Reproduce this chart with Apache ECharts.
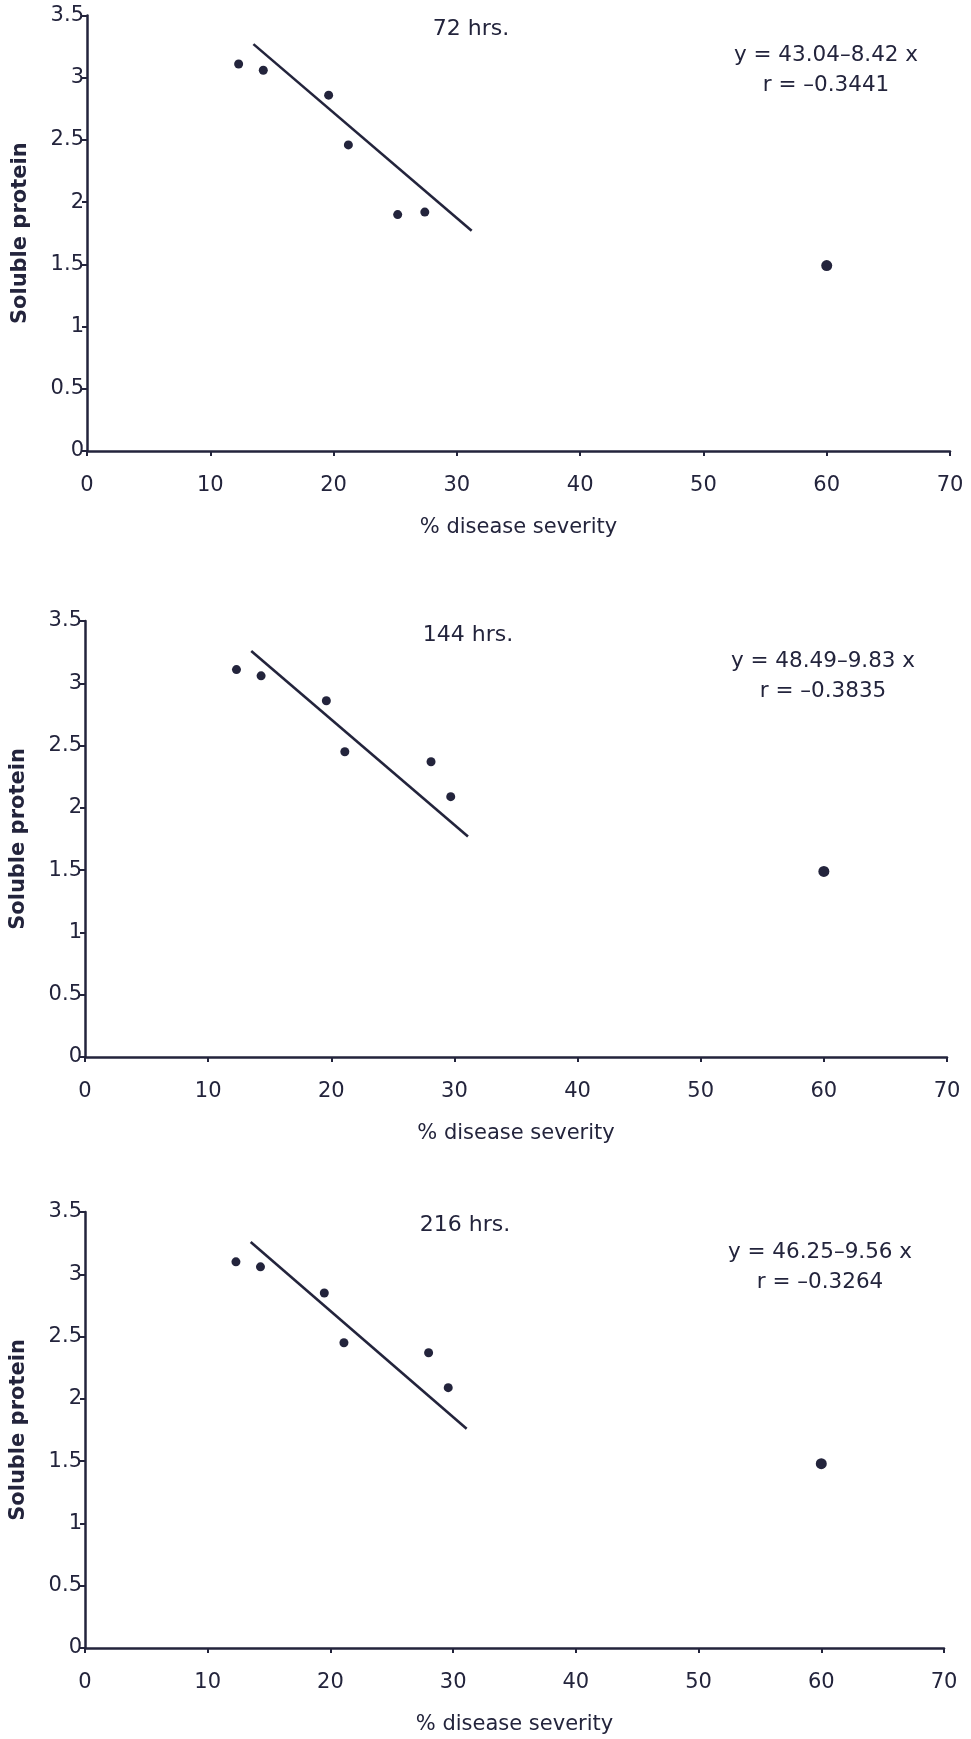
<!DOCTYPE html>
<html>
<head>
<meta charset="utf-8">
<script src="https://cdn.jsdelivr.net/npm/echarts@6/dist/echarts.min.js"></script>
<style>
  html, body { margin: 0; padding: 0; background: #fff; }
  #main { width: 971px; height: 1739px; }
</style>
</head>
<body>
<div id="main"></div>
<script>
// data (% disease severity vs soluble protein)
var hours = ['72 hrs.', '144 hrs.', '216 hrs.'];
var equations = ['y = 43.04\u20138.42 x', 'y = 48.49\u20139.83 x', 'y = 46.25\u20139.56 x'];
var rValues = ['r = \u20130.3441', 'r = \u20130.3835', 'r = \u20130.3264'];

var severity72 = [12.3, 14.3, 19.6, 21.2, 25.2, 27.4, 60];
var protein72 = [3.11, 3.06, 2.86, 2.46, 1.90, 1.92, 1.49];
var severity144 = [12.3, 14.3, 19.6, 21.1, 28.1, 29.7, 60];
var protein144 = [3.11, 3.06, 2.86, 2.45, 2.37, 2.09, 1.49];
var severity216 = [12.3, 14.3, 19.5, 21.1, 28.0, 29.6, 60];
var protein216 = [3.10, 3.06, 2.85, 2.45, 2.37, 2.09, 1.48];

// fitted line ends as drawn
var fitX72 = [13.5, 31.2], fitY72 = [3.27, 1.77];
var fitX144 = [13.5, 31.1], fitY144 = [3.26, 1.77];
var fitX216 = [13.5, 31.1], fitY216 = [3.26, 1.76];

var xTicks = [0, 10, 20, 30, 40, 50, 60, 70];
var yTicks = [0, 0.5, 1, 1.5, 2, 2.5, 3, 3.5];

var ink = '#23243c';
var font = "'DejaVu Sans', 'Liberation Sans', sans-serif";

var panels = [
  { xs: severity72, ys: protein72, fx: fitX72, fy: fitY72, grid: { left: 87, top: 15.5, width: 863, height: 435.5 }, title: [471, 29], eq: [826, 55] },
  { xs: severity144, ys: protein144, fx: fitX144, fy: fitY144, grid: { left: 84, top: 621, width: 863, height: 436 }, title: [468, 635], eq: [823, 661] },
  { xs: severity216, ys: protein216, fx: fitX216, fy: fitY216, grid: { left: 81, top: 1212, width: 863, height: 436 }, title: [465, 1225], eq: [820, 1252] }
];

function zip(a, b) {
  var out = [];
  for (var i = 0; i < a.length; i++) out.push([a[i], b[i]]);
  return out;
}

var grids = [], xAxes = [], yAxes = [], series = [], graphics = [];
panels.forEach(function (p, i) {
  grids.push(p.grid);
  xAxes.push({
    type: 'value', gridIndex: i,
    min: xTicks[0], max: xTicks[xTicks.length - 1], interval: 10,
    name: '% disease severity', nameLocation: 'middle', nameGap: 66,
    nameTextStyle: { color: ink, fontSize: 21, fontFamily: font },
    axisLine: { show: true, onZero: false, lineStyle: { color: ink, width: 2.5 } },
    axisTick: { show: true, length: 5, lineStyle: { color: ink, width: 2 } },
    axisLabel: { color: ink, fontSize: 21, fontFamily: font, margin: 24 },
    splitLine: { show: false }
  });
  yAxes.push({
    type: 'value', gridIndex: i,
    min: yTicks[0], max: yTicks[yTicks.length - 1], interval: 0.5,
    name: 'Soluble protein', nameLocation: 'middle', nameGap: 56,
    nameTextStyle: { color: ink, fontSize: 21, fontWeight: 'bold', fontFamily: font },
    axisLine: { show: true, onZero: false, lineStyle: { color: ink, width: 2.5 } },
    axisTick: { show: true, length: 5, lineStyle: { color: ink, width: 2 } },
    axisLabel: { color: ink, fontSize: 21, fontFamily: font, margin: 3 },
    splitLine: { show: false }
  });
  series.push({
    type: 'scatter', xAxisIndex: i, yAxisIndex: i,
    data: zip(p.xs, p.ys),
    symbolSize: function (v) { return v[0] > 50 ? 11 : 9; },
    itemStyle: { color: ink, opacity: 1 }
  });
  series.push({
    type: 'line', xAxisIndex: i, yAxisIndex: i,
    data: zip(p.fx, p.fy),
    symbol: 'none',
    lineStyle: { color: ink, width: 2.6 }
  });
  graphics.push({
    type: 'text', x: p.title[0], y: p.title[1],
    style: { text: hours[i], fill: ink, font: '22px ' + font, align: 'center', verticalAlign: 'middle' }
  });
  graphics.push({
    type: 'text', x: p.eq[0], y: p.eq[1] - 15,
    style: { text: equations[i] + '\n' + rValues[i], fill: ink, font: '21.5px ' + font, align: 'center', verticalAlign: 'top', lineHeight: 30 }
  });
});

var chart = echarts.init(document.getElementById('main'), null, { renderer: 'canvas' });
chart.setOption({
  backgroundColor: '#ffffff',
  animation: false,
  grid: grids,
  xAxis: xAxes,
  yAxis: yAxes,
  series: series,
  graphic: graphics
});
</script>
</body>
</html>
